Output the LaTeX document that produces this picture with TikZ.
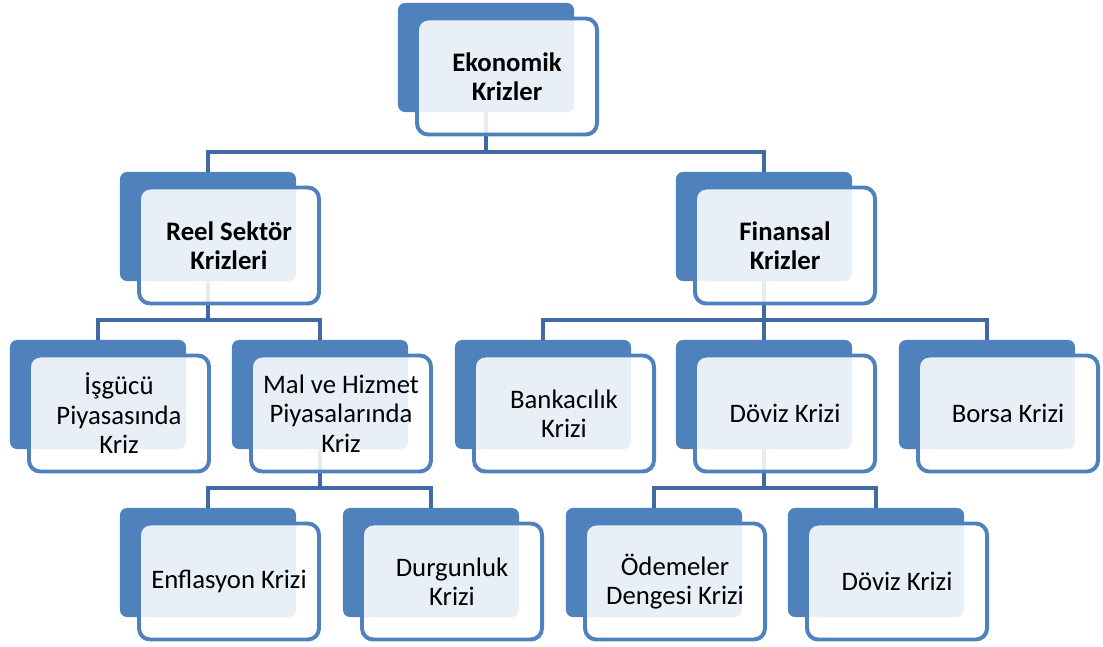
\documentclass[tikz,border=0pt]{standalone}
\usepackage{fontspec}
\setmainfont{Carlito}
\usetikzlibrary{backgrounds,positioning}

\definecolor{boxblue}{RGB}{79,129,189}
\definecolor{linkblue}{RGB}{64,106,160}

\tikzset{
  backbox/.style={fill=boxblue, rounded corners=5pt, minimum width=4.4cm, minimum height=2.725cm, inner sep=0pt},
  frontbox/.style={draw=boxblue, line width=2.8pt, fill=white, fill opacity=0.88, text opacity=1, rounded corners=8pt,
    minimum width=4.5cm, minimum height=2.9cm, inner sep=0pt, align=center, font=\fontsize{19}{21}\selectfont},
  topbox/.style={frontbox, font=\fontsize{19}{21}\selectfont\bfseries},
  link/.style={draw=linkblue, line width=2.8pt}
}

\begin{document}
\begin{tikzpicture}[x=0.025cm, y=-0.025cm]

\useasboundingbox (0,0) rectangle (1103,646);

% back boxes
  \node[backbox] (ekoB)  at (486,57.5) {};
  \node[backbox] (reelB) at (208,226.5) {};
  \node[backbox] (finB)  at (764,226.5) {};
  \node[backbox] (isgB)  at (98,394.5) {};
  \node[backbox] (malB)  at (320,394.5) {};
  \node[backbox] (bankB) at (543,394.5) {};
  \node[backbox] (dovB)  at (764,394.5) {};
  \node[backbox] (borB)  at (987,394.5) {};
  \node[backbox] (enfB)  at (208,562.5) {};
  \node[backbox] (durB)  at (431,562.5) {};
  \node[backbox] (odeB)  at (654,562.5) {};
  \node[backbox] (dovikiB) at (876,562.5) {};

% front boxes with the texts
  \node[topbox]   (eko)  at ([shift={(21,19)}]ekoB)  {Ekonomik\\Krizler};
  \node[topbox]   (reel) at ([shift={(21,19)}]reelB) {Reel Sektör\\Krizleri};
  \node[topbox]   (fin)  at ([shift={(21,19)}]finB)  {Finansal\\Krizler};
  \node[frontbox] (isg)  at ([shift={(21,19)}]isgB)  {İşgücü\\Piyasasında\\Kriz};
  \node[frontbox] (mal)  at ([shift={(21,19)}]malB)  {Mal ve Hizmet\\Piyasalarında\\Kriz};
  \node[frontbox] (bank) at ([shift={(21,19)}]bankB) {Bankacılık\\Krizi};
  \node[frontbox] (dov)  at ([shift={(21,19)}]dovB)  {Döviz Krizi};
  \node[frontbox] (bor)  at ([shift={(21,19)}]borB)  {Borsa Krizi};
  \node[frontbox] (enf)  at ([shift={(21,19)}]enfB)  {Enflasyon Krizi};
  \node[frontbox] (dur)  at ([shift={(21,19)}]durB)  {Durgunluk\\Krizi};
  \node[frontbox] (ode)  at ([shift={(21,19)}]odeB)  {Ödemeler\\Dengesi Krizi};
  \node[frontbox] (doviki) at ([shift={(21,19)}]dovikiB) {Döviz Krizi};

% connectors, behind the boxes
  \coordinate (bar1) at (0,152);
  \coordinate (bar2) at (0,320);
  \coordinate (bar3) at (0,488);
  \begin{scope}[on background layer]
  \draw[link] (ekoB.center) -- (ekoB.center |- bar1) -| (reelB.center);
  \draw[link] (ekoB.center) -- (ekoB.center |- bar1) -| (finB.center);
  \draw[link] (reelB.center) -- (reelB.center |- bar2) -| (isgB.center);
  \draw[link] (reelB.center) -- (reelB.center |- bar2) -| (malB.center);
  \draw[link] (finB.center) -- (finB.center |- bar2) -| (bankB.center);
  \draw[link] (finB.center) -- (finB.center |- bar2) -| (dovB.center);
  \draw[link] (finB.center) -- (finB.center |- bar2) -| (borB.center);
  \draw[link] (malB.center) -- (malB.center |- bar3) -| (enfB.center);
  \draw[link] (malB.center) -- (malB.center |- bar3) -| (durB.center);
  \draw[link] (dovB.center) -- (dovB.center |- bar3) -| (odeB.center);
  \draw[link] (dovB.center) -- (dovB.center |- bar3) -| (dovikiB.center);
  \end{scope}

\end{tikzpicture}
\end{document}
